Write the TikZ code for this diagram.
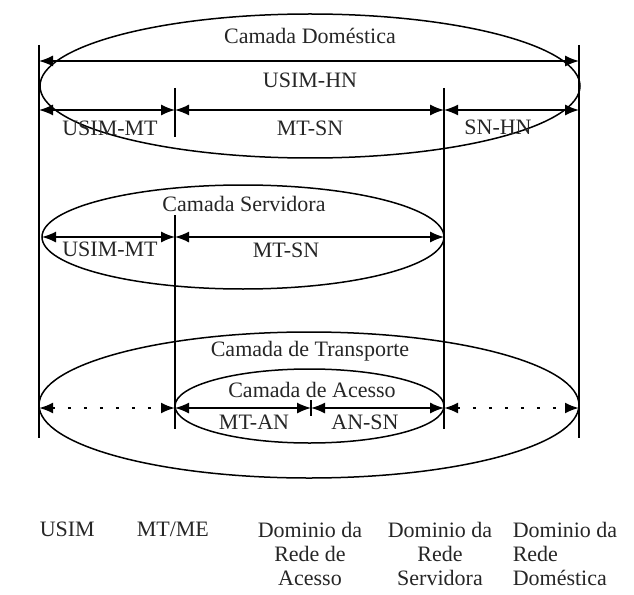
\documentclass[tikz,border=0pt]{standalone}
\usepackage{fontspec}
\setmainfont{Liberation Serif}
\usetikzlibrary{arrows.meta,positioning}

\begin{document}
\begin{tikzpicture}[x=1bp,y=-1bp,line width=1.5bp,
    txt/.style={font=\fontsize{22bp}{24bp}\selectfont,text=black!85,inner sep=0pt},
    dim/.style={{Latex[length=14bp,width=11bp]}-{Latex[length=14bp,width=11bp]}},
    dotdim/.style={dim,line width=2.2bp,dash pattern=on 3bp off 13bp}]
    \useasboundingbox (0,0) rectangle (634,595);

    % domain columns and rows
    \coordinate (usim) at (39,0);
    \coordinate (mt) at (175,0);
    \coordinate (an) at (311,0);
    \coordinate (sn) at (444,0);
    \coordinate (hn) at (579,0);
    \coordinate (rowA) at (0,61);
    \coordinate (rowB) at (0,110);
    \coordinate (rowC) at (0,237);
    \coordinate (rowD) at (0,408);

    % vertical lines
    \draw (usim |- 0,45) -- (usim |- 0,438);
    \draw (hn |- 0,45) -- (hn |- 0,438);
    \draw (mt |- 0,88) -- (mt |- 0,137);
    \draw (mt |- 0,215) -- (mt |- 0,429);
    \draw (sn |- 0,88) -- (sn |- 0,429);
    \draw (an |- 0,400) -- (an |- 0,416);

    % layers
    \draw (310,86) ellipse [x radius=270,y radius=72];
    \draw (243,237) ellipse [x radius=201,y radius=52];
    \draw (309,405) ellipse [x radius=270,y radius=73];
    \draw (309.5,406) ellipse [x radius=134.5,y radius=37];

    % Camada Domestica
    \node[txt] (dom) at (310,36) {Camada Doméstica};
    \draw[dim] (usim |- rowA) -- (hn |- rowA);
    \node[txt] (usimhn) at (310,80) {USIM-HN};
    \draw[dim] (usim |- rowB) -- (mt |- rowB);
    \draw[dim] (mt |- rowB) -- (sn |- rowB);
    \draw[dim] (sn |- rowB) -- (hn |- rowB);
    \node[txt] (usimmtA) at (110,128) {USIM-MT};
    \node[txt] (mtsnA) at (310,128) {MT-SN};
    \node[txt] (snhn) at (498,127) {SN-HN};

    % Camada Servidora
    \node[txt] (serv) at (244,204) {Camada Servidora};
    \draw[dim] (42,237) -- (mt |- rowC);
    \draw[dim] (mt |- rowC) -- (sn |- rowC);
    \node[txt] (usimmtB) at (110,249) {USIM-MT};
    \node[txt] (mtsnB) at (286,250) {MT-SN};

    % Camada de Transporte / Acesso
    \node[txt] (transp) at (310,351) {Camada de Transporte};
    \node[txt] (acesso) at (312,390) {Camada de Acesso};
    \draw[dotdim] (usim |- rowD) -- (mt |- rowD);
    \draw[dim] (mt |- rowD) -- (an |- rowD);
    \draw[dim] (an |- rowD) -- (sn |- rowD);
    \draw[dotdim] (sn |- rowD) -- (hn |- rowD);
    \node[txt] (mtan) at (254,422) {MT-AN};
    \node[txt] (ansn) at (365,422) {AN-SN};

    % domains
    \node[txt,anchor=north west] (dusim) at (39,521) {USIM};
    \node[txt,anchor=north west] (dmt) at (136,521) {MT/ME};
    \node[txt,anchor=north,align=center] (dacc) at (310,521) {Dominio da\\Rede de\\Acesso};
    \node[txt,anchor=north,align=center] (dserv) at (440,521) {Dominio da\\Rede\\Servidora};
    \node[txt,anchor=north west,align=left] (dhome) at (512,521) {Dominio da\\Rede\\Doméstica};
\end{tikzpicture}
\end{document}
